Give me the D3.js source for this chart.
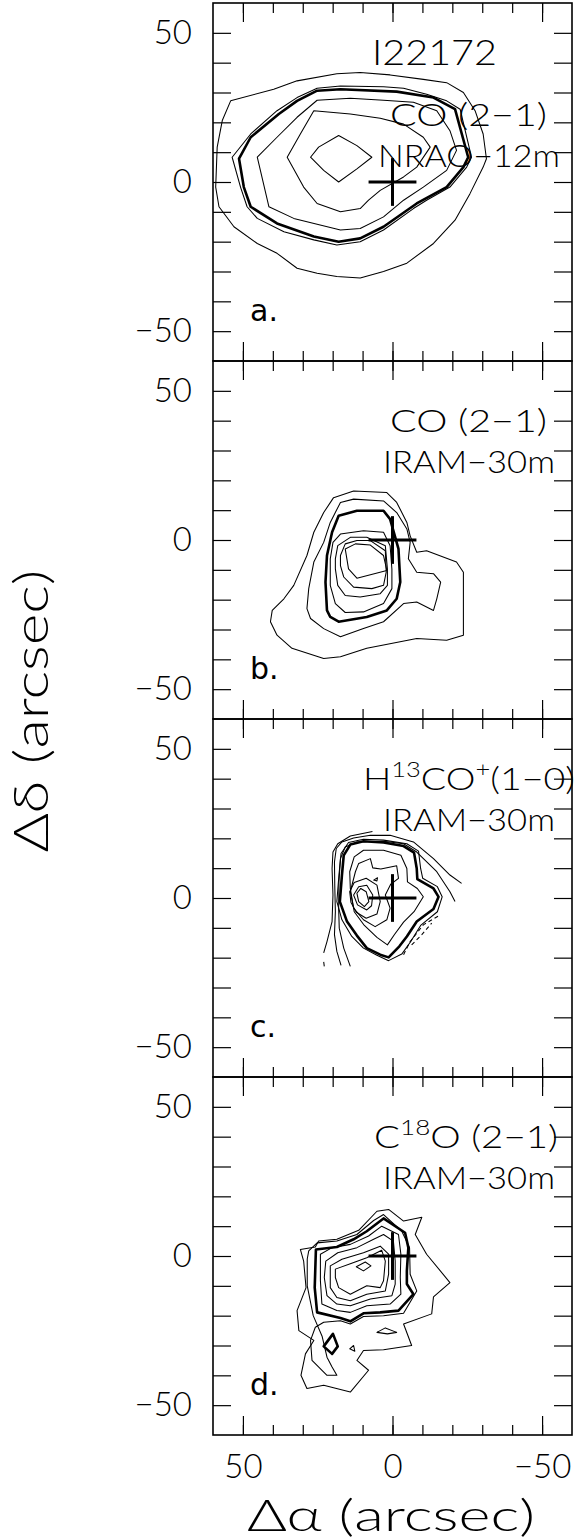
<!DOCTYPE html>
<html><head><meta charset="utf-8">
<script src="https://cdn.jsdelivr.net/npm/d3@7"></script>
<style>
html,body{margin:0;padding:0;background:#fff;}
svg{display:block;}
text{font-family:"Lato","DejaVu Sans",sans-serif;font-weight:300;fill:#000;}
</style></head><body>
<svg id="chart" width="575" height="1539"></svg>
<script>
// ---------------- DATA ----------------
const xDomain = [60, -60];            // Δα (arcsec), east to the left
const yDomain = [-60, 60];            // Δδ (arcsec)
const tickValuesAll = [-50,-40,-30,-20,-10,0,10,20,30,40,50];
const tickValuesMajor = [-50, 0, 50];
const tickLabels = {"50":"50","0":"0","-50":"\u221250"};
const sourceName = "I22172";
const panelLetters = ["a.","b.","c.","d."];
const lineNames = ["CO (2\u22121)","CO (2\u22121)","H13CO+(1\u22120)","C18O (2\u22121)"];
const telescopes = ["NRAO\u221212m","IRAM\u221230m","IRAM\u221230m","IRAM\u221230m"];
const crossPos = [0, 0];
const crossArm = 8;
const xTitle = "\u0394\u03b1 (arcsec)";
const yTitle = "\u0394\u03b4 (arcsec)";

// Contour lines (arcsec offsets). level: contour step; the 50% level is drawn heavy.
const halfLevels = [3, 3, 4, 3];

const contoursA = [
 {level:1, pts:[[54.1,27.2],[39.7,31.1],[31.9,33.9],[18.6,36.3],[10.8,36.7],[0.8,35.9],[-10.3,34.4],[-18.1,33.3],[-23.7,30],[-27.6,23.9],[-30.3,16.1],[-31.4,7.8],[-30.3,5],[-25.9,-3.9],[-20.9,-12.8],[-13.7,-20.6],[-4.8,-27.2],[3,-30],[10.8,-32.2],[18.6,-31.7],[25.2,-30.6],[31.9,-28.9],[38.6,-23.9],[45.2,-20.6],[53,-15],[58,-8.3],[59.1,-1.7],[58.6,11.7],[56.9,20.6]]},
 {level:2, pts:[[53.6,8.3],[47.4,16.1],[38.6,23.9],[31.9,28.3],[25.2,31.4],[17.4,32.2],[3,31.9],[-3.7,31.4],[-11.4,29.4],[-18.1,27.2],[-22.6,24.4],[-26.4,8.3],[-24.8,5],[-19.2,-1.7],[-11.4,-6.1],[-7,-8.9],[3,-16.1],[10.8,-20],[18.6,-21.1],[26.3,-19.4],[36.3,-16.7],[45.2,-12.2],[48.6,-8.3],[50.8,-1.7]]},
 {level:3, pts:[[51.3,7.8],[47.4,15],[38,22.8],[31.9,27.2],[25.2,30.6],[17.4,31.1],[-1.4,30.3],[-13.7,28.3],[-20.9,24.4],[-25.3,8.3],[-23.7,5],[-18.1,-1.7],[-8.1,-7.2],[3,-15],[10.8,-18.9],[18,-20],[26.3,-18.3],[38.6,-13.9],[47.4,-8.3],[49.7,-1.7]]},
 {level:4, pts:[[45.2,8.3],[38.6,15],[31.9,21.7],[25.2,27.4],[14.1,28.1],[3,27.4],[-7,26.7],[-14.8,23.9],[-19.2,17.2],[-21.4,10.6],[-18.1,3.9],[-10.3,-1.7],[-3.7,-6.1],[3,-11.7],[10.8,-15.6],[17.4,-16.1],[33,-12.2],[41.3,-8.3]]},
 {level:5, pts:[[35.2,8.3],[30.8,16.1],[26.3,23.9],[14.1,22.8],[4.1,21.4],[-3.7,19.4],[-10.3,15],[-12.6,11.7],[-8.1,5],[-3.7,1.7],[4.1,-2.8],[8,-6.1],[10.8,-8.9],[17.4,-10],[25.2,-7.2],[29.7,-1.7]]},
 {level:6, pts:[[27.4,8.3],[24.7,11.7],[18,15.6],[11.9,12.2],[6.9,8.3],[11.9,4.4],[18,0],[23,3.9]]}
];

const contoursB = [
 {level:1, pts:[[40.2,-23.6],[40.8,-27.4],[38.6,-31.9],[33.6,-36.3],[23,-39.7],[17.4,-39.1],[8.6,-36.3],[3,-35.2],[-8.1,-33],[-18.1,-33.6],[-23.7,-31.9],[-23.7,-10.8],[-21.4,-7.4],[-11.4,-3.6],[-8.1,-4.1],[-5.9,1.4],[-4.8,5.9],[-1.4,12.6],[1.9,15.9],[13,16.4],[19.7,14.2],[23,9.2],[26.3,2.6],[28.6,-5.2],[33,-15.2],[36.3,-19.7]]},
 {level:2, pts:[[28.6,-23],[28,-16.3],[26.3,-7.4],[23,-0.8],[20.8,5.9],[17.4,12.6],[13,13.7],[3,13.1],[-1.4,9.2],[-4.8,3.7],[-5.9,-0.8],[-5.3,-6.3],[-8.1,-10.8],[-13.7,-11.3],[-16.1,-14.1],[-14.8,-19.7],[-13.7,-23.6],[-8.1,-20.8],[-3.7,-21.3],[3,-27.4],[9.7,-29.7],[17.4,-32.4],[23,-29.7],[27.4,-26.3]]},
 {level:3, pts:[[21.9,-23.6],[22.4,-14.1],[21.9,-5.2],[20.2,2.6],[18,8.1],[11.9,9.8],[3,9.8],[0.8,7],[-2,-3],[-2.6,-14.1],[-1.4,-19.7],[1.9,-23.6],[8.6,-25.8],[18,-27.4],[20.8,-25.8]]},
 {level:4, pts:[[20.8,-6.3],[19.9,-0.8],[17.4,2],[9.7,3.1],[3,2.6],[0.8,-1.9],[0.2,-9.7],[0.2,-16.3],[3,-21.3],[9.7,-24.1],[15.8,-24.3],[19.1,-21.3],[20.8,-15.2]]},
 {level:5, pts:[[19.1,-6.3],[18.3,-1.9],[14.1,0.9],[8.6,0.9],[2.4,-1.9],[1.7,-9.7],[1.7,-15.2],[4.1,-18],[10.8,-19.1],[15.8,-18.6],[18.3,-15.2],[19.1,-9.7]]},
 {level:6, pts:[[17.4,-5.2],[15.8,-1.3],[11.9,-0.2],[7.4,-0.2],[2.4,-3.6],[2.1,-10.8],[3,-15.2],[6.9,-16.3],[13,-15.8],[16.3,-12.4],[17.4,-8.6]]},
 {level:7, pts:[[15.8,-3],[12.4,-1.3],[7.4,-1.7],[3,-5.2],[1.9,-10.2],[11.9,-12.8],[14.7,-9.7]]}
];

const contoursC = [
 {level:1, open:true, pts:[[23,-18.4],[21.9,-14.6],[20.2,-7.9],[19.9,1],[20.2,9.9],[19.9,15.4],[18.3,18.2],[14.1,20.8],[6.7,22.3]]},
 {level:1, open:true, pts:[[23,-21.4],[22.8,-22.9]]},
 {level:2, open:true, pts:[[17.2,-22.6],[18.6,-17.9],[19.4,-12.3],[19.1,-4.6],[19.3,4.3],[19.4,12.1],[18.8,16.6],[16.9,18.8],[13,20.1],[7.4,21],[0.8,21],[-7,18.8],[-13.7,13.2],[-19.2,7.7],[-23.1,4.9]]},
 {level:2, open:true, pts:[[14.1,-22.9],[16.3,-16.8],[17.8,-10.1],[18,-3.4],[17.9,5.4],[17.4,13.2],[15.8,17.1],[11.9,18.8],[3,19],[-3.7,18.2],[-8.1,15.4],[-14.8,8.8],[-19.2,2.1],[-20.9,-1.2]]},
 {level:3, pts:[[18.6,-1.2],[17.9,7.7],[17.2,14.9],[14.7,18.6],[9.7,19.7],[3,19.4],[-4.8,18.2],[-8.7,15.7],[-9.4,9.9],[-10.1,6.6],[-15,3.8],[-16.6,0.4],[-15,-4.6],[-9.4,-9.2],[-6.1,-14.6],[-3.1,-18.8],[1.3,-21],[5.2,-19.2],[9.7,-16.8],[13.6,-12.9],[16.9,-7.3]]},
 {level:4, pts:[[17.6,-1.2],[16.9,7.7],[16.3,14.3],[14.1,17.9],[9.7,19],[3,18.6],[-3.7,17.4],[-7.2,15.2],[-8.1,9.9],[-8.3,6.3],[-13.7,3.2],[-15.4,0.4],[-13.7,-3.7],[-8.1,-7.9],[-4.8,-12.9],[-2.3,-16.2],[1.3,-19.9],[4.1,-19],[8.6,-16.8],[11.9,-12.6],[15.2,-7.9]]},
 {level:5, pts:[[14.1,3.2],[14.3,8.8],[12.8,13.8],[9.7,16],[3,16],[-2.8,14.3],[-4.8,9.9],[-5,5.4],[-8.3,3.2],[-10.3,0.4],[-7.2,-4.6],[-3.7,-8.1],[-0.6,-12.3],[1.7,-15.7],[5.2,-13.2],[9.4,-9.2],[12.8,-4.6]]},
 {level:6, pts:[[12.4,8.8],[11.3,11.6],[7.4,13.2],[6.6,10.1],[3.9,9.7],[-1.4,10.8],[-2,6.6],[0.6,4.6],[2.4,1],[0.8,-3.4],[1.9,-7.3],[5.8,-9.6],[9.7,-7.3],[13,-3.4],[14.1,2.1]]},
 {level:7, pts:[[14.3,2.1],[12.8,5.2],[8.8,6.6],[5.2,4.3],[4.1,-1.2],[5.2,-5.4],[8.8,-6.8],[12.1,-4.8],[13.9,-1.4]]},
 {level:7, pts:[[6.3,6],[5,6.8],[5.2,5.7]]},
 {level:8, pts:[[13,1],[11.3,3.8],[8.6,4.3],[6.6,1],[7,-2.6],[8.6,-4],[11.7,-2.3]]},
 {level:9, pts:[[11.9,1.6],[10.6,3.2],[8.8,2.1],[7.9,-1.2],[9.4,-2.9],[11.3,-1.2]]},
 {level:-1, open:true, pts:[[-3.7,-19],[-5.9,-14.6],[-10.3,-9],[-15.9,-5.7]]},
 {level:-2, open:true, pts:[[-6.4,-15.7],[-9.8,-12.3],[-13.1,-8.4]]}
];

const contoursD = [
 {level:1, pts:[[30.8,2.2],[25.8,3],[24.7,5],[18.6,5.6],[11.3,8.6],[5.2,15],[1.3,15.6],[-3.7,11.7],[-9.8,13],[-7.6,7.2],[-11.4,0.6],[-19.2,-8.9],[-13.7,-13.7],[-13.1,-19.4],[-3.7,-22.8],[-6.4,-30],[3,-31.4],[9.7,-31.7],[11.9,-35],[8,-38.3],[14.1,-45.6],[23,-43.3],[28.6,-44.4],[30.6,-40],[29.1,-32.8],[26.3,-28.3],[31.3,-25],[31.9,-18.3],[28.9,-10.6],[29.7,-1.7]]},
 {level:2, pts:[[28,1.7],[25.2,4.4],[18.6,5],[11.9,7.2],[6.3,11.9],[3,13.9],[-3.1,8.3],[-5.7,2.8],[-5.9,-6.1],[-8.1,-11.7],[-3.7,-19.2],[3,-20],[9.7,-20.3],[14.1,-22.8],[17.4,-21.7],[23,-22.2],[25.8,-23.9],[27.4,-28.3],[26.9,-35],[21.9,-40],[18.6,-40],[20.2,-37.2],[21.9,-33.9],[23.5,-27],[26.5,-20],[28.5,-10],[28.5,-1]]},
 {level:3, pts:[[25.6,2.2],[18.6,3],[13,5.6],[8.6,8.3],[3,12.6],[-4.2,7.8],[-5.3,2.8],[-4.8,-5],[-4.8,-9.4],[-7,-12.8],[-2,-18.3],[4.1,-18.9],[9.7,-19.2],[14.1,-21.9],[17.4,-20.8],[25.2,-18.9],[26,-10.6]]},
 {level:3, pts:[[23,-30.3],[19.9,-26.1],[18.3,-30.3],[20.2,-32.8]]},
 {level:2, pts:[[5.2,-25.6],[2.4,-24.1],[-1.4,-25.6],[1.7,-26.1]]},
 {level:2, pts:[[14.3,-31.1],[13,-30],[12.6,-31.9]]},
 {level:4, pts:[[24.1,0.6],[20.2,2.8],[14.1,3.9],[8,6.7],[3.6,10],[-2,7.2],[-2.8,0.6],[-2.6,-7.2],[-2.8,-12.8],[0.8,-16.1],[8.6,-16.7],[14.1,-18.9],[18.6,-18.3],[23.6,-16.1],[24.1,-8.3]]},
 {level:5, pts:[[22.3,-1.7],[18.3,1.1],[11.9,2.8],[6.3,5.6],[3,7.2],[-0.3,5],[-0.9,-1.7],[-0.9,-9.4],[0.2,-13.3],[7.4,-14.4],[14.1,-16.7],[18.6,-16.1],[21.9,-13.3],[22.8,-7.2]]},
 {level:6, pts:[[20.8,-3.3],[16.9,-1.1],[9.7,1.1],[4.1,3.3],[1.3,0.6],[1.3,-6.1],[2.4,-11.7],[8.6,-12.8],[14.1,-15],[18.6,-13.9],[20.8,-10.6]]},
 {level:7, pts:[[19.1,-4.4],[14.1,-2.6],[8.6,-0.6],[3.6,1.9],[2.4,-1.7],[3,-8.3],[4.1,-10.6],[8.6,-10],[14.1,-12.8],[18,-10.6],[19.1,-7.2]]},
 {level:8, pts:[[12.1,-3.6],[9.1,-2],[7.2,-3.3],[9.7,-5]]}
];
const panelContours = [contoursA, contoursB, contoursC, contoursD];

// ---------------- LAYOUT ----------------
const svg = d3.select("#chart");
const L = 213, R = 572, PH = 358, TOP0 = 3;
const x = d3.scaleLinear().domain(xDomain).range([L, R]);
const fmt = d => tickLabels[String(d)] || "";

panelContours.forEach((contours, i) => {
  const top = TOP0 + i * PH, bottom = top + PH;
  const y = d3.scaleLinear().domain(yDomain).range([bottom, top]);
  const g = svg.append("g");
  const clipId = "clip" + i;
  svg.append("clipPath").attr("id", clipId).append("rect")
     .attr("x", L).attr("y", top).attr("width", R - L).attr("height", PH);

  // contours
  const cg = g.append("g").attr("clip-path", `url(#${clipId})`);
  contours.forEach(c => {
    const gen = d3.line().x(p => x(p[0])).y(p => y(p[1]))
      .curve(c.open ? d3.curveLinear : d3.curveLinearClosed);
    cg.append("path").attr("d", gen(c.pts))
      .attr("fill", "none").attr("stroke", "#000")
      .attr("stroke-linejoin", "round")
      .attr("stroke-width", c.level === halfLevels[i] ? 2.6 : 1.05)
      .attr("stroke-dasharray", c.level < 0 ? "4,3" : null);
  });

  // cross at reference position
  g.append("line").attr("x1", x(crossPos[0] + crossArm)).attr("x2", x(crossPos[0] - crossArm))
    .attr("y1", y(crossPos[1])).attr("y2", y(crossPos[1]))
    .attr("stroke", "#000").attr("stroke-width", 3);
  g.append("line").attr("x1", x(crossPos[0])).attr("x2", x(crossPos[0]))
    .attr("y1", y(crossPos[1] - crossArm)).attr("y2", y(crossPos[1] + crossArm))
    .attr("stroke", "#000").attr("stroke-width", 3);

  // axes
  const styleAxis = sel => {
    sel.select(".domain").remove();
    sel.selectAll("line").attr("stroke", "#000").attr("stroke-width", 1.2);
    sel.selectAll("text").attr("font-size", 33).attr("fill", "#000");
    sel.attr("font-family", null).attr("font-size", null);
  };
  g.append("g").attr("transform", `translate(${L},0)`)
    .call(d3.axisLeft(y).tickValues(tickValuesAll).tickSize(-18).tickPadding(21).tickFormat(fmt))
    .call(styleAxis);
  g.append("g").attr("transform", `translate(${R},0)`)
    .call(d3.axisRight(y).tickValues(tickValuesAll).tickSize(-18).tickFormat(""))
    .call(styleAxis);
  g.append("g").attr("transform", `translate(0,${top})`)
    .call(d3.axisTop(x).tickValues(tickValuesAll).tickSize(-10).tickFormat(""))
    .call(styleAxis);
  g.append("g").attr("transform", `translate(0,${top})`)
    .call(d3.axisTop(x).tickValues(tickValuesMajor).tickSize(-19).tickFormat(""))
    .call(styleAxis);
  g.append("g").attr("transform", `translate(0,${bottom})`)
    .call(d3.axisBottom(x).tickValues(tickValuesAll).tickSize(-10).tickFormat(""))
    .call(styleAxis);
  g.append("g").attr("transform", `translate(0,${bottom})`)
    .call(d3.axisBottom(x).tickValues(tickValuesMajor).tickSize(-19).tickPadding(20)
          .tickFormat(i === 3 ? fmt : ""))
    .call(styleAxis);

  // frame
  g.append("rect").attr("x", L).attr("y", top).attr("width", R - L).attr("height", PH)
    .attr("fill", "none").attr("stroke", "#000").attr("stroke-width", 1.6);

  // panel letter
  g.append("text").attr("x", 250).attr("y", bottom - 40)
    .attr("font-size", 30).style("font-family", "'DejaVu Sans',sans-serif").style("font-weight", 400)
    .text(panelLetters[i]);

  // annotations
  const off = i === 0 ? 52 : 0;
  if (i === 0) {
    g.append("text").attr("x", 372).attr("y", top + 62).attr("font-size", 36)
      .attr("textLength", 125).attr("lengthAdjust", "spacingAndGlyphs").text(sourceName);
  }
  const t1 = g.append("text").attr("y", top + 71 + off).attr("font-size", 31)
      .attr("lengthAdjust", "spacingAndGlyphs");
  if (i === 2) {
    t1.attr("x", 363).attr("textLength", 212);
    t1.append("tspan").text("H");
    t1.append("tspan").attr("font-size", 21).attr("dy", -13).text("13");
    t1.append("tspan").attr("dy", 13).text("CO");
    t1.append("tspan").attr("font-size", 21).attr("dy", -13).text("+");
    t1.append("tspan").attr("dy", 13).text("(1\u22120)");
  } else if (i === 3) {
    t1.attr("x", 374).attr("textLength", 184);
    t1.append("tspan").text("C");
    t1.append("tspan").attr("font-size", 21).attr("dy", -13).text("18");
    t1.append("tspan").attr("dy", 13).text("O (2\u22121)");
  } else {
    t1.attr("x", 390).attr("textLength", 157).text(lineNames[i]);
  }
  const t2 = i === 0 ? {x: 378, w: 182, y: top + 164} : {x: 383, w: 172, y: top + 112};
  g.append("text").attr("x", t2.x).attr("y", t2.y).attr("font-size", 31)
    .attr("textLength", t2.w).attr("lengthAdjust", "spacingAndGlyphs").text(telescopes[i]);
});

// axis titles
svg.append("text").attr("x", 391).attr("y", 1531).attr("text-anchor", "middle")
  .attr("font-size", 44).attr("textLength", 288).attr("lengthAdjust", "spacingAndGlyphs").text(xTitle);
svg.append("text").attr("transform", "translate(48,711) rotate(-90)").attr("text-anchor", "middle")
  .attr("font-size", 48).attr("textLength", 283).attr("lengthAdjust", "spacingAndGlyphs").text(yTitle);
</script>
</body></html>
